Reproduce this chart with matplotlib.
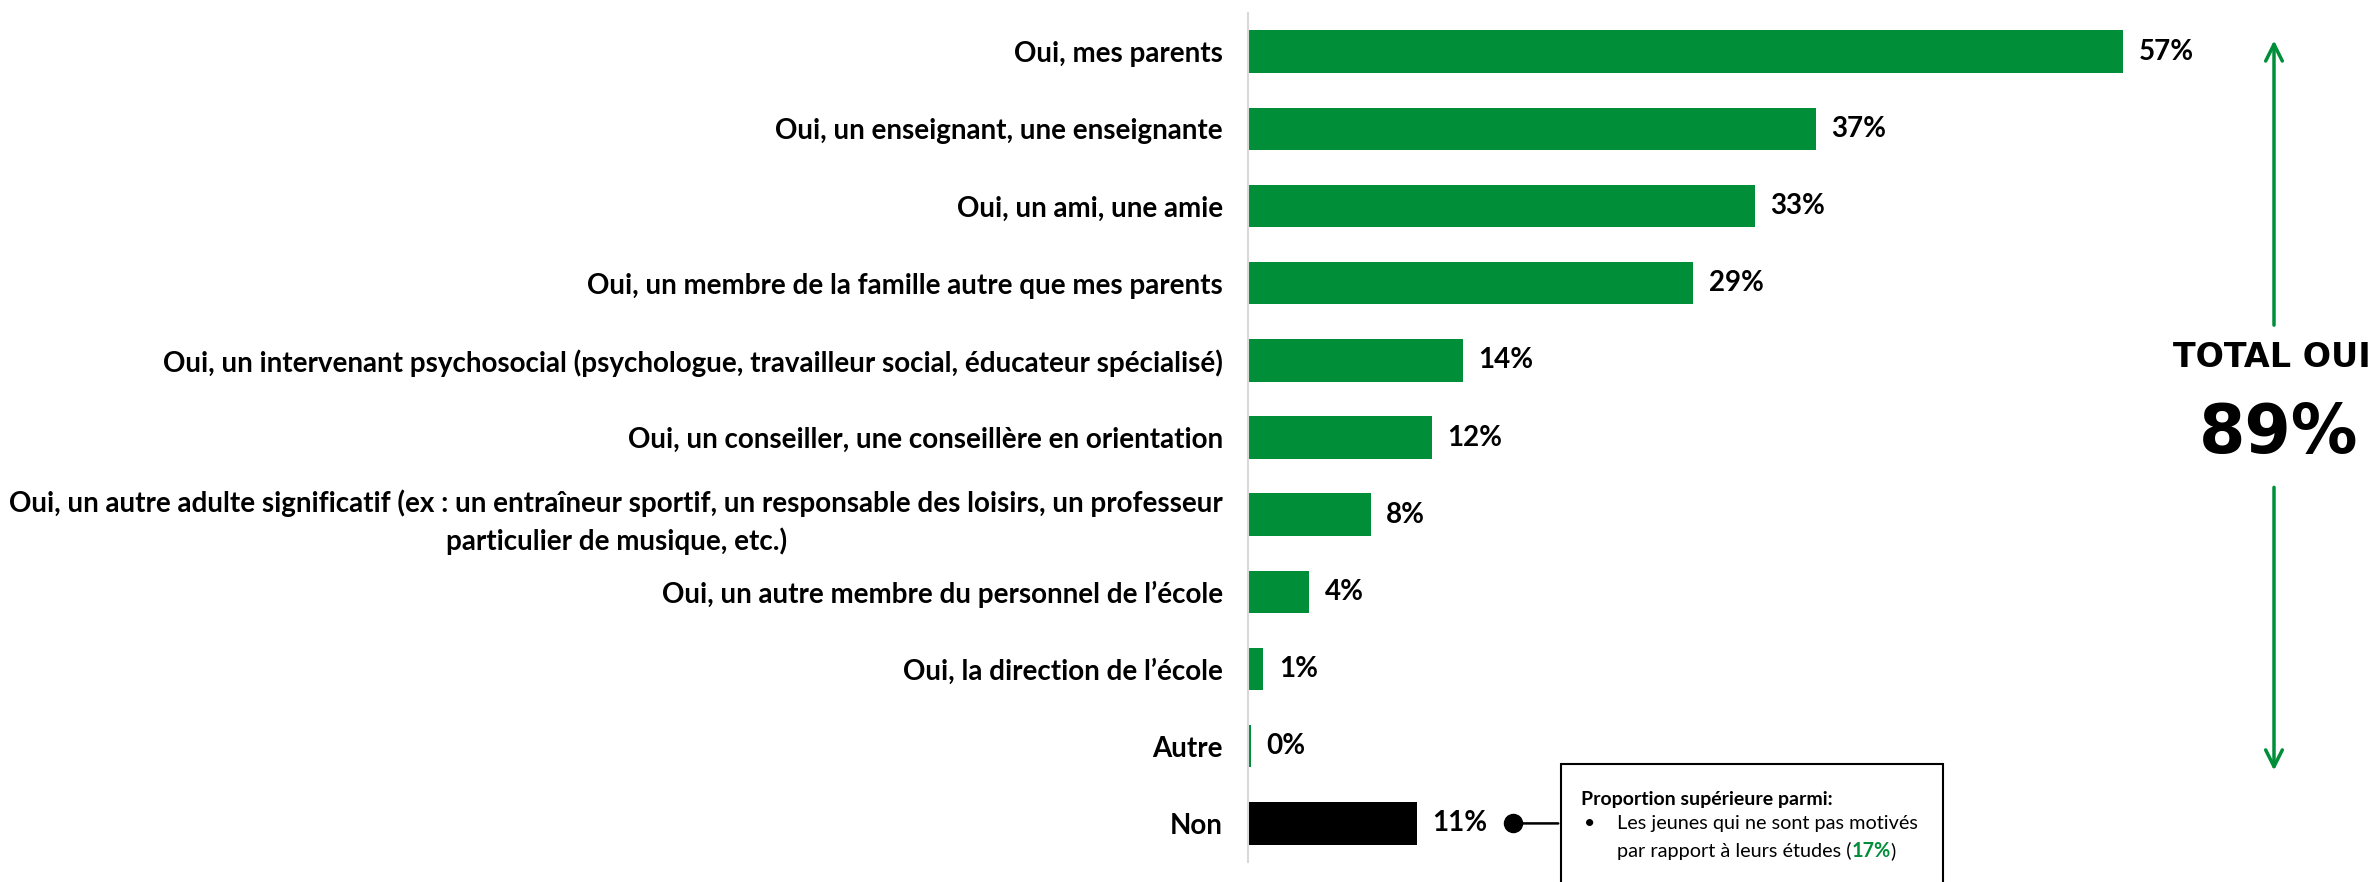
import matplotlib
matplotlib.use("Agg")
import matplotlib.pyplot as plt
from matplotlib.patches import Rectangle

categories = [
    "Oui, mes parents",
    "Oui, un enseignant, une enseignante",
    "Oui, un ami, une amie",
    "Oui, un membre de la famille autre que mes parents",
    "Oui, un intervenant psychosocial (psychologue, travailleur social, éducateur spécialisé)",
    "Oui, un conseiller, une conseillère en orientation",
    "Oui, un autre adulte significatif (ex : un entraîneur sportif, un responsable des loisirs, un professeur\nparticulier de musique, etc.)",
    "Oui, un autre membre du personnel de l’école",
    "Oui, la direction de l’école",
    "Autre",
    "Non",
]
values = [57, 37, 33, 29, 14, 12, 8, 4, 1, 0.2, 11]
value_labels = ["57%", "37%", "33%", "29%", "14%", "12%", "8%", "4%", "1%", "0%", "11%"]
total_oui = "89%"

GREEN = "#008E39"
colors = [GREEN] * 10 + ["black"]

plt.rcParams["font.family"] = ["Lato", "DejaVu Sans"]

W, H = 2377, 882
fig = plt.figure(figsize=(W / 100, H / 100), dpi=100)
left = 1248 / W
right = (1248 + 15.35 * 70) / W
ax = fig.add_axes([left, 20 / H, right - left, 849 / H])

ypos = list(range(len(categories)))
ax.barh(ypos, values, height=0.55, color=colors)
ax.set_ylim(len(categories) - 0.5, -0.5)
ax.set_xlim(0, 70)

for y, v, lab in zip(ypos, values, value_labels):
    ax.text(v + 1.0, y, lab, va="center", ha="left", fontsize=20, fontweight="bold")

ax.set_yticks(ypos)
ax.set_yticklabels(categories, fontsize=20, fontweight="bold", linespacing=1.45)
for t in ax.get_yticklabels():
    t.set_multialignment("center")
ax.tick_params(axis="y", length=0, pad=18)
ax.set_xticks([])
for s in ["top", "right", "bottom"]:
    ax.spines[s].set_visible(False)
ax.spines["left"].set_color("#D9D9D9")
ax.spines["left"].set_linewidth(1.5)

# total oui annotation on the right
xa = 2274 / W
ax.annotate("", xy=(xa, -0.18), xytext=(xa, 3.58), xycoords=("figure fraction", "data"),
            textcoords=("figure fraction", "data"),
            arrowprops=dict(arrowstyle="->", color=GREEN, lw=2.5, mutation_scale=30))
ax.annotate("", xy=(xa, 9.35), xytext=(xa, 5.61), xycoords=("figure fraction", "data"),
            textcoords=("figure fraction", "data"),
            arrowprops=dict(arrowstyle="->", color=GREEN, lw=2.5, mutation_scale=30))
ax.annotate("TOTAL OUI", xy=(2272 / W, 3.96), xycoords=("figure fraction", "data"),
            ha="center", va="center", fontsize=24, fontweight="bold", family="DejaVu Sans")
ax.annotate(total_oui, xy=(2279 / W, 4.96), xycoords=("figure fraction", "data"),
            ha="center", va="center", fontsize=48, fontweight="bold", family="DejaVu Sans")

# callout box for "Non"
y_non = ypos[-1]
box_l, box_r = 1561 / W, 1943 / W
fig.patches.append(Rectangle((box_l, -0.05), box_r - box_l, 1 - 764 / H + 0.05,
                             transform=fig.transFigure, facecolor="white",
                             edgecolor="black", lw=1.5))
ax.annotate("", xy=(box_l, y_non), xytext=(1513 / W, y_non),
            xycoords=("figure fraction", "data"), textcoords=("figure fraction", "data"),
            arrowprops=dict(arrowstyle="-", color="black", lw=1.8))
ax.plot([1513 / W], [y_non], marker="o", ms=13, color="black",
        transform=matplotlib.transforms.blended_transform_factory(fig.transFigure, ax.transData),
        clip_on=False)
fig.text(1581 / W, 1 - 799 / H, "Proportion supérieure parmi:", fontsize=14,
         fontweight="bold", va="center", ha="left")
fig.text(1584 / W, 1 - 824 / H, "•", fontsize=14, va="center", ha="left")
fig.text(1617 / W, 1 - 824 / H, "Les jeunes qui ne sont pas motivés", fontsize=14.3,
         va="center", ha="left")
t1 = fig.text(1617 / W, 1 - 851 / H, "par rapport à leurs études (", fontsize=14.3,
              va="center", ha="left")
fig.canvas.draw()
bb = t1.get_window_extent()
t2 = fig.text(bb.x1 / W, 1 - 851 / H, "17%", fontsize=14.3, fontweight="bold",
              color=GREEN, va="center", ha="left")
bb2 = t2.get_window_extent()
fig.text(bb2.x1 / W, 1 - 851 / H, ")", fontsize=14.3, va="center", ha="left")

fig.savefig("out.png", dpi=100)
